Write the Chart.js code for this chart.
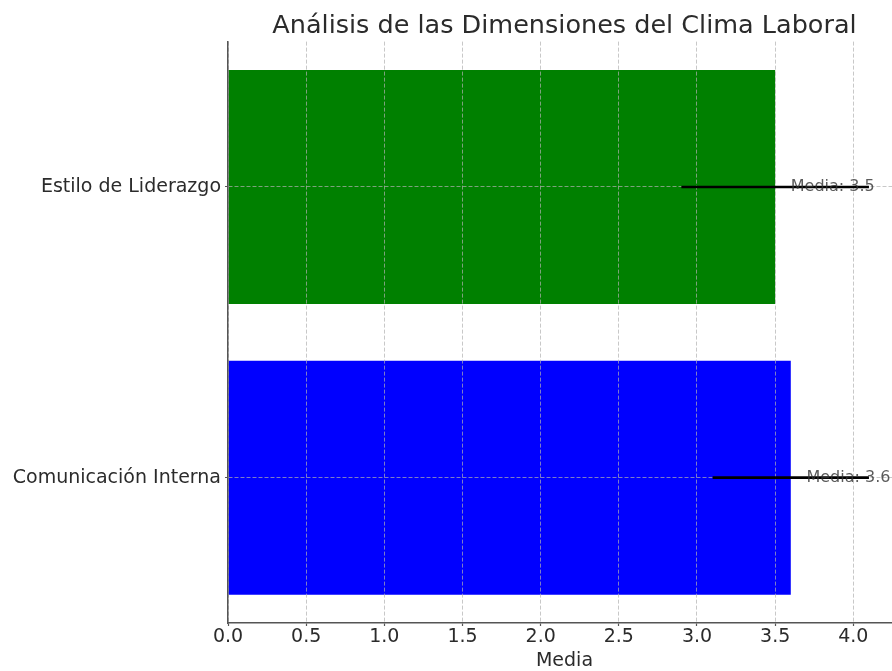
<!DOCTYPE html>
<html lang="es">
<head>
<meta charset="utf-8">
<title>Análisis de las Dimensiones del Clima Laboral</title>
<script src="https://cdn.jsdelivr.net/npm/chart.js@4.4.1/dist/chart.umd.min.js"></script>
<style>
  html, body { margin: 0; padding: 0; background: #ffffff; overflow: hidden; }
  #wrap { position: relative; width: 901px; height: 671px; }
</style>
</head>
<body>
<div id="wrap"><canvas id="chart"></canvas></div>
<script>
// Dimensiones evaluadas (de arriba hacia abajo)
const categories = ['Estilo de Liderazgo', 'Comunicación Interna'];
// Media de cada dimensión
const means = [3.5, 3.6];
// Desviación mostrada como barra de error horizontal
const errors = [0.6, 0.5];
const barColors = ['#008000', '#0000ff'];
const xTicks = [0, 0.5, 1, 1.5, 2, 2.5, 3, 3.5, 4];

const FONT = "'DejaVu Sans', 'Liberation Sans', sans-serif";
const TEXT = '#2b2b2b';

// Centra el título sobre el área de trazado, no sobre todo el lienzo
const titleOverArea = {
  id: 'titleOverArea',
  afterLayout(chart) {
    const t = chart.titleBlock;
    if (t) {
      t.left = chart.chartArea.left;
      t.right = chart.chartArea.right;
    }
  }
};

// Barras de error y etiquetas "Media: x"
const errorAndLabels = {
  id: 'errorAndLabels',
  afterDraw(chart) {
    const { ctx, scales: { x, y } } = chart;
    ctx.save();
    means.forEach((m, i) => {
      const yc = y.getPixelForValue(i);
      const x0 = x.getPixelForValue(m - errors[i]);
      const x1 = x.getPixelForValue(m + errors[i]);
      ctx.strokeStyle = '#000000';
      ctx.lineWidth = 2.6;
      ctx.beginPath();
      ctx.moveTo(x0, yc);
      ctx.lineTo(x1, yc);
      ctx.stroke();

      ctx.font = '16px ' + FONT;
      ctx.fillStyle = 'rgba(50,50,50,0.8)';
      ctx.textAlign = 'left';
      ctx.textBaseline = 'middle';
      ctx.fillText('Media: ' + m.toFixed(1), x.getPixelForValue(m + 0.1), yc);
    });
    ctx.restore();
  }
};

const gridStyle = {
  color: 'rgba(176,176,176,0.7)',
  lineWidth: 1,
  tickBorderDash: [],
  tickColor: '#555555',
  tickWidth: 1.2,
  tickLength: 3,
  z: 1
};

const borderStyle = { display: true, color: '#555555', width: 1.5, z: 2, dash: [4, 2] };

new Chart(document.getElementById('chart'), {
  type: 'bar',
  data: {
    labels: categories,
    datasets: [{
      data: means,
      backgroundColor: barColors,
      borderWidth: 0,
      barPercentage: 0.805,
      categoryPercentage: 1.0
    }]
  },
  plugins: [titleOverArea, errorAndLabels],
  options: {
    indexAxis: 'y',
    responsive: true,
    maintainAspectRatio: false,
    animation: false,
    layout: { padding: { top: 0, right: 0, bottom: 0, left: 0 } },
    plugins: {
      legend: { display: false },
      tooltip: { enabled: false },
      title: {
        display: true,
        text: 'Análisis de las Dimensiones del Clima Laboral',
        color: TEXT,
        font: { family: FONT, size: 25.5, weight: 'normal', lineHeight: 1.2 },
        padding: { top: 11, bottom: 0 }
      }
    },
    scales: {
      x: {
        type: 'linear',
        min: 0,
        max: 4.305,
        afterBuildTicks(scale) {
          scale.ticks = xTicks.map(v => ({ value: v }));
        },
        ticks: {
          color: TEXT,
          font: { family: FONT, size: 19, lineHeight: 1.0 },
          padding: 2,
          callback: v => Number(v).toFixed(1)
        },
        grid: Object.assign({}, gridStyle),
        border: Object.assign({}, borderStyle),
        title: {
          display: true,
          text: 'Media',
          color: TEXT,
          font: { family: FONT, size: 19, lineHeight: 1.0 },
          padding: { top: 3, bottom: 0 }
        }
      },
      y: {
        type: 'category',
        offset: true,
        afterFit(scale) { scale.width = 228; },
        ticks: {
          color: TEXT,
          font: { family: FONT, size: 19 },
          padding: 4
        },
        grid: Object.assign({ offset: false }, gridStyle),
        border: Object.assign({}, borderStyle)
      }
    }
  }
});
</script>
</body>
</html>
